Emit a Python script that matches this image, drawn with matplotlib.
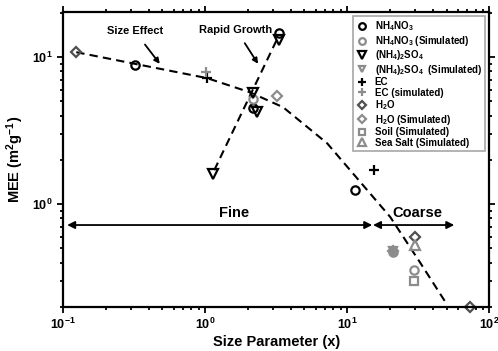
import numpy as np
import matplotlib
matplotlib.use('Agg')
import matplotlib.pyplot as plt
from matplotlib.ticker import NullFormatter, LogLocator

plt.rcParams['font.family'] = ['Liberation Sans', 'DejaVu Sans']
plt.rcParams['font.weight'] = 'bold'
plt.rcParams['mathtext.fontset'] = 'custom'
plt.rcParams['mathtext.rm'] = 'Liberation Sans:bold'
plt.rcParams['mathtext.it'] = 'Liberation Sans:bold'
plt.rcParams['mathtext.bf'] = 'Liberation Sans:bold'
plt.rcParams['mathtext.default'] = 'rm'

# 数据
nh4no3_x = [0.32, 2.18, 3.32, 11.4]
nh4no3_y = [8.9, 4.5, 14.5, 1.24]
nh4no3_sim_x = [2.18, 21.1, 29.6]
nh4no3_sim_y = [5.16, 0.47, 0.355]
so4_x = [1.14, 2.18, 2.32, 3.32]
so4_y = [1.6, 5.67, 4.21, 13.0]
so4_sim_x = [21.1]
so4_sim_y = [0.48]
ec_x = [1.03, 15.5]
ec_y = [7.25, 1.70]
ec_sim_x = [1.02, 21.1]
ec_sim_y = [7.9, 0.48]
h2o_x = [0.124, 30.0, 73.5]
h2o_y = [10.8, 0.6, 0.2]
h2o_sim_x = [3.21, 21.1]
h2o_sim_y = [5.45, 0.48]
soil_sim_x = [29.6]
soil_sim_y = [0.30]
seasalt_sim_x = [30.0]
seasalt_sim_y = [0.53]

# 拟合曲线
fit_x = [0.124, 1.03, 2.07, 3.54, 7.23, 10.5, 20.1, 32.7, 50.6]
fit_y = [10.8, 7.2, 5.76, 4.56, 2.59, 1.70, 0.816, 0.398, 0.206]
rg_x = [1.16, 3.3]
rg_y = [1.7, 14.0]

gray = '#8c8c8c'
dgray = '#505050'

fig = plt.figure(figsize=(4.98, 3.51), dpi=100)
ax = fig.add_axes([0.1265, 0.126, 0.856, 0.84])

ax.plot(fit_x, fit_y, 'k--', lw=1.5, dashes=(4, 2.5), zorder=2)
ax.plot(rg_x, rg_y, 'k--', lw=1.5, dashes=(4, 2.5), zorder=2)

ms = 6
ax.plot(nh4no3_x, nh4no3_y, 'o', ls='none', mfc='none', mec='black', mew=1.6, ms=ms, label='NH$_4$NO$_3$')
ax.plot(nh4no3_sim_x, nh4no3_sim_y, 'o', ls='none', mfc='none', mec=gray, mew=1.6, ms=ms, label='NH$_4$NO$_3$ (Simulated)')
ax.plot(so4_x, so4_y, 'v', ls='none', mfc='none', mec='black', mew=1.6, ms=ms + 1, label='(NH$_4$)$_2$SO$_4$')
ax.plot(so4_sim_x, so4_sim_y, 'v', ls='none', mfc='none', mec=gray, mew=1.6, ms=ms, label='(NH$_4$)$_2$SO$_4$  (Simulated)')
ax.plot(ec_x, ec_y, '+', ls='none', color='black', mew=1.6, ms=ms + 1, label='EC')
ax.plot(ec_sim_x, ec_sim_y, '+', ls='none', color=gray, mew=1.6, ms=ms + 1, label='EC (simulated)')
ax.plot(h2o_x, h2o_y, 'D', ls='none', mfc='none', mec=dgray, mew=1.6, ms=ms - 0.5, label='H$_2$O', clip_on=False)
ax.plot(h2o_sim_x, h2o_sim_y, 'D', ls='none', mfc='none', mec=gray, mew=1.6, ms=ms - 0.5, label='H$_2$O (Simulated)')
ax.plot(soil_sim_x, soil_sim_y, 's', ls='none', mfc='none', mec=gray, mew=1.6, ms=ms - 0.5, label='Soil (Simulated)')
ax.plot(seasalt_sim_x, seasalt_sim_y, '^', ls='none', mfc='none', mec=gray, mew=1.6, ms=ms + 1, label='Sea Salt (Simulated)')

ax.set_xscale('log')
ax.set_yscale('log')
ax.set_xlim(0.1, 100)
ax.set_ylim(0.2, 20.3)

ax.set_xticks([0.1, 1, 10, 100])
ax.set_xticklabels([r'$10^{-1}$', r'$10^{0}$', r'$10^{1}$', r'$10^{2}$'])
ax.set_yticks([1, 10])
ax.set_yticklabels([r'$10^{0}$', r'$10^{1}$'])
ax.xaxis.set_minor_locator(LogLocator(base=10, subs=np.arange(2, 10)))
ax.yaxis.set_minor_locator(LogLocator(base=10, subs=np.arange(2, 10)))
ax.xaxis.set_minor_formatter(NullFormatter())
ax.yaxis.set_minor_formatter(NullFormatter())
ax.tick_params(which='both', direction='out', top=True, right=True, width=1.3, labelsize=9)
ax.tick_params(which='major', length=4)
ax.tick_params(which='minor', length=2)
for sp in ax.spines.values():
    sp.set_linewidth(1.6)

ax.set_xlabel('Size Parameter (x)', fontsize=10.5, fontweight='bold', labelpad=2)
ax.set_ylabel('MEE (m$^2$g$^{-1}$)', fontsize=10.5, fontweight='bold', labelpad=4)

# 箭头注释
ax.annotate('Size Effect', xy=(0.48, 9.0), xytext=(0.32, 15.0), fontsize=8, fontweight='bold',
            ha='center', va='center',
            arrowprops=dict(arrowstyle='-|>', color='black', lw=1.3, shrinkA=5, shrinkB=0))
ax.annotate('Rapid Growth', xy=(2.36, 9.0), xytext=(1.65, 15.4), fontsize=8, fontweight='bold',
            ha='center', va='center',
            arrowprops=dict(arrowstyle='-|>', color='black', lw=1.3, shrinkA=5, shrinkB=0))

ax.annotate('', xy=(0.107, 0.72), xytext=(15.0, 0.72),
            arrowprops=dict(arrowstyle='<|-|>', color='black', lw=1.3, shrinkA=0, shrinkB=0, mutation_scale=11))
ax.annotate('', xy=(15.2, 0.72), xytext=(56.7, 0.72),
            arrowprops=dict(arrowstyle='<|-|>', color='black', lw=1.3, shrinkA=0, shrinkB=0, mutation_scale=11))
ax.text(1.6, 0.87, 'Fine', fontsize=10.5, fontweight='bold', ha='center', va='center')
ax.text(31, 0.87, 'Coarse', fontsize=10.5, fontweight='bold', ha='center', va='center')

leg = ax.legend(loc='upper right', bbox_to_anchor=(0.9955, 0.992), fontsize=7, frameon=True, fancybox=False,
                markerscale=0.8, handlelength=1.3, handletextpad=0.6, labelspacing=0.05,
                borderpad=0.35, borderaxespad=0.2, numpoints=1)
leg.get_frame().set_edgecolor('#909090')
leg.get_frame().set_linewidth(1.2)

plt.savefig('out.png', dpi=100)
